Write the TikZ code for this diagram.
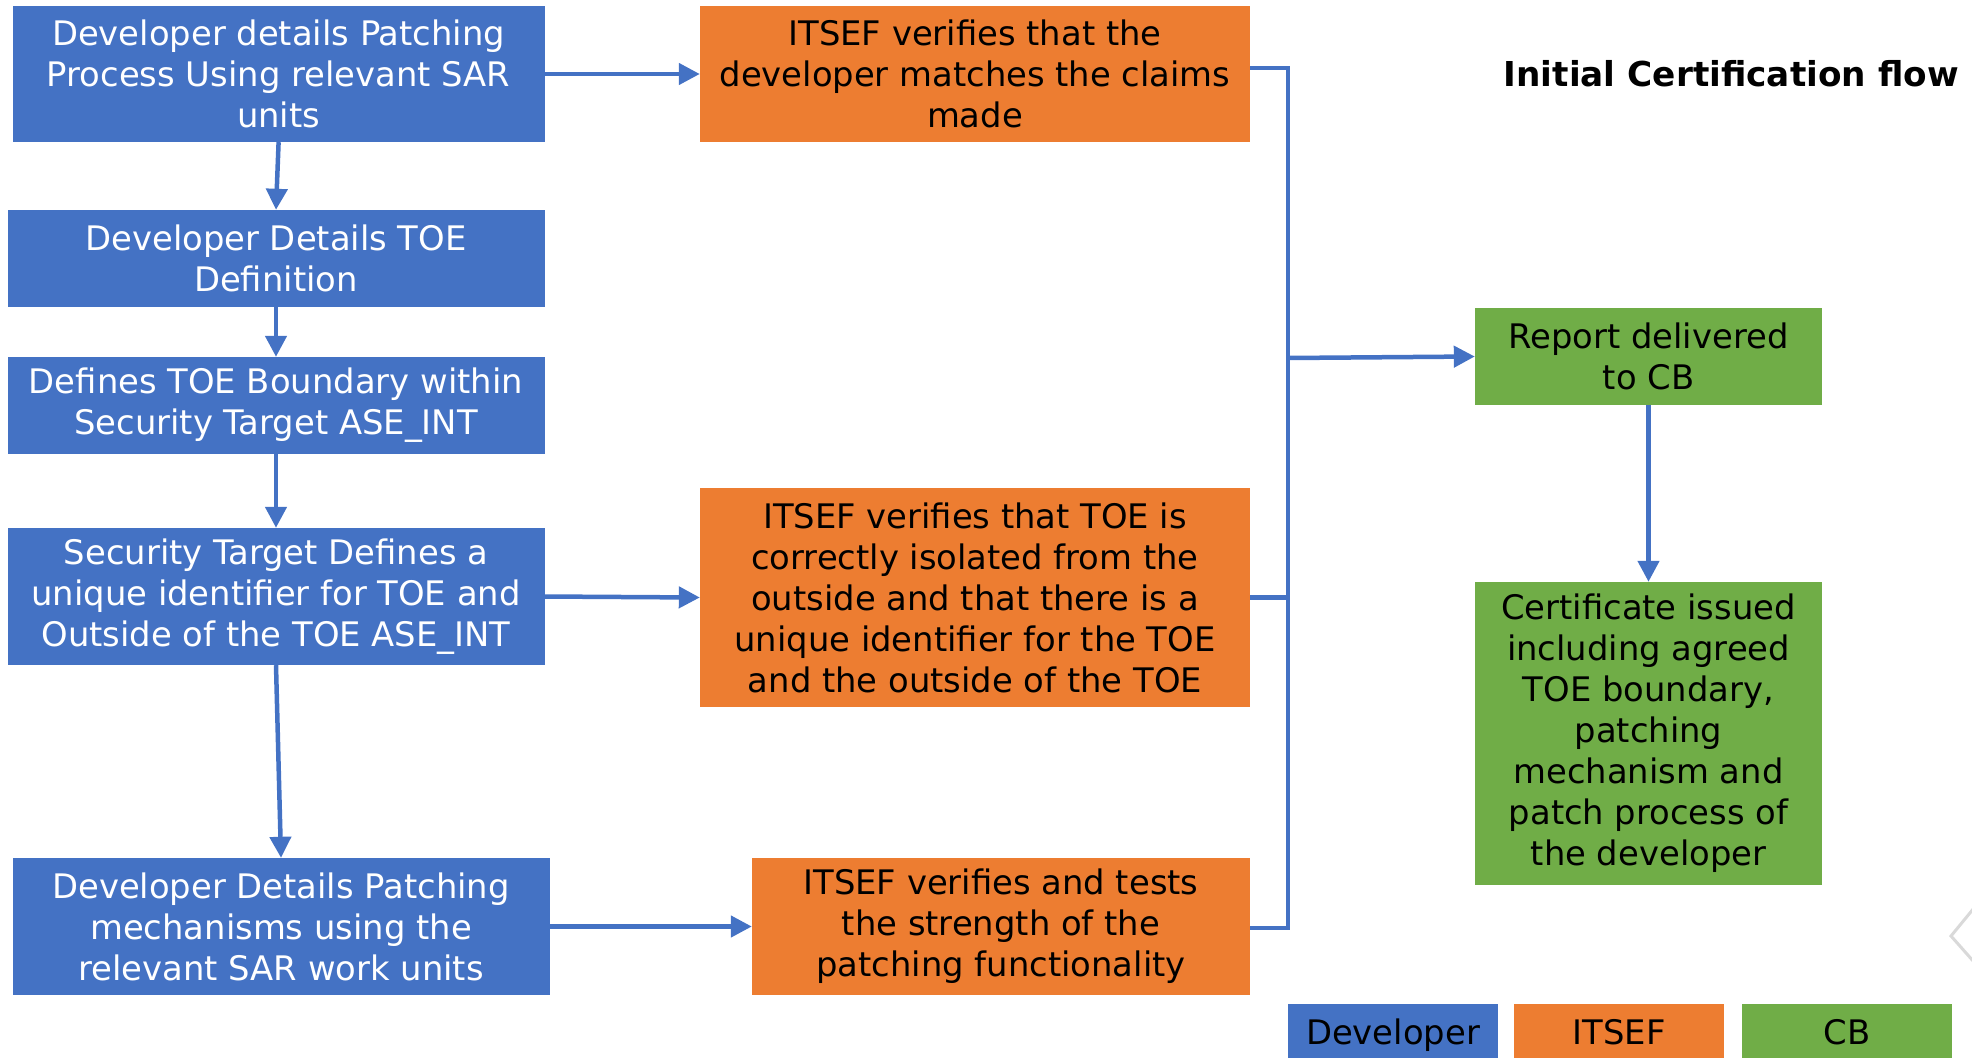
\documentclass[tikz,border=0pt]{standalone}
\usepackage{fontspec}
\setmainfont{DejaVu Sans}
\usetikzlibrary{arrows.meta}
\definecolor{devblue}{HTML}{4472C4}
\definecolor{itorange}{HTML}{ED7D31}
\definecolor{cbgreen}{HTML}{70AD47}
\tikzset{
  box/.style={rectangle, inner sep=0pt, align=center,
    font=\fontsize{33.8}{41}\selectfont},
  devbox/.style={box, fill=devblue, text=white},
  itbox/.style={box, fill=itorange, text=black},
  cbbox/.style={box, fill=cbgreen, text=black},
  legend/.style={text height=30pt, text depth=3pt},
  flow/.style={draw=devblue, line width=4.5pt},
  arr/.style={flow, -{Triangle[length=21pt,width=21pt]}},
}
\begin{document}
\begin{tikzpicture}[x=1pt,y=-1pt]
\useasboundingbox (0,0) rectangle (1972,1057);
\clip (0,0) rectangle (1972,1057);

% developer column
\node[devbox, minimum width=532pt, minimum height=136pt] (dev1) at (278.6,74)
  {Developer details Patching\\Process Using relevant SAR\\units};
\node[devbox, minimum width=537pt, minimum height=97pt] (dev2) at (276,258.5)
  {Developer Details TOE\\Definition};
\node[devbox, minimum width=537pt, minimum height=97pt] (dev3) at (276,405.5)
  {Defines TOE Boundary within\\Security Target ASE\_INT};
\node[devbox, minimum width=537pt, minimum height=137pt] (dev4) at (276,596.5)
  {Security Target Defines a\\unique identifier for TOE and\\Outside of the TOE ASE\_INT};
\node[devbox, minimum width=537pt, minimum height=137pt] (dev5) at (281,926.5)
  {Developer Details Patching\\mechanisms using the\\relevant SAR work units};

% ITSEF column
\node[itbox, minimum width=550pt, minimum height=136pt] (it1) at (975,74)
  {ITSEF verifies that the\\developer matches the claims\\made};
\node[itbox, minimum width=550pt, minimum height=219pt] (it2) at (975,597.5)
  {ITSEF verifies that TOE is\\correctly isolated from the\\outside and that there is a\\unique identifier for the TOE\\and the outside of the TOE};
\node[itbox, minimum width=498pt, minimum height=137pt] (it3) at (1001,926.5)
  {ITSEF verifies and tests\\the strength of the\\patching functionality};

% CB column
\node[cbbox, minimum width=347pt, minimum height=97pt] (cb1) at (1648.5,356.5)
  {Report delivered\\to CB};
\node[cbbox, minimum width=347pt, minimum height=303pt] (cb2) at (1648.5,733.5)
  {Certificate issued\\including agreed\\TOE boundary,\\patching\\mechanism and\\patch process of\\the developer};

% title
\node[anchor=east, inner sep=0pt, font=\fontsize{34.3}{41}\selectfont\bfseries] (title) at (1959,74)
  {Initial Certification flow};

% legend
\node[devbox, legend, minimum width=210pt, minimum height=54pt, text=black] (lgdev) at (1393,1031) {Developer};
\node[itbox, legend, minimum width=210pt, minimum height=54pt] (lgit) at (1619,1031) {ITSEF};
\node[cbbox, legend, minimum width=210pt, minimum height=54pt] (lgcb) at (1847,1031) {CB};

% developer chain
\draw[arr] (dev1.south) -- (dev2.north);
\draw[arr] (dev2.south) -- (dev3.north);
\draw[arr] (dev3.south) -- (dev4.north);
\draw[arr] (dev4.south) -- (dev5.north);

% developer to ITSEF
\draw[arr] (dev1.east) -- (it1.west);
\draw[arr] (dev4.east) -- (it2.west);
\draw[arr] (dev5.east) -- (it3.west);

% collecting bus to the report
\coordinate (bt) at (1288,68);
\coordinate (bm) at (1288,358);
\coordinate (b2) at (1288,597.5);
\coordinate (bb) at (1288,928);
\draw[flow, line join=miter] (it1.east |- bt) -- (bt) -- (bb) -- (it3.east |- bb);
\draw[flow] (it2.east) -- (b2);
\draw[arr] (bm) -- (cb1.west);
\draw[arr] (cb1.south) -- (cb2.north);

% navigation chevron at the edge
\coordinate (cv1) at (1974,908);
\coordinate (cv2) at (1951,936);
\coordinate (cv3) at (1974,962);
\draw[black!15, line width=3pt] (cv1) -- (cv2) -- (cv3);
\end{tikzpicture}
\end{document}
